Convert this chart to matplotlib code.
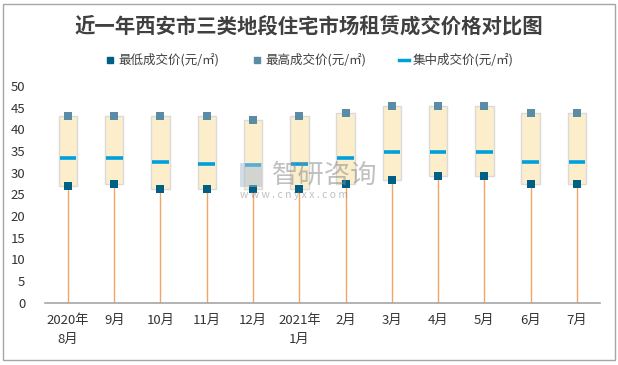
import numpy as np
import matplotlib
matplotlib.use("Agg")
import matplotlib.pyplot as plt
from matplotlib.lines import Line2D
from matplotlib.patches import Rectangle

plt.rcParams['font.family'] = ['Noto Sans CJK SC', 'DejaVu Sans']

# =====================================
# Daten
# =====================================

months = ["2020年\n8月", "9月", "10月", "11月", "12月", "2021年\n1月",
          "2月", "3月", "4月", "5月", "6月", "7月"]
low_price = [27.0, 27.3, 26.2, 26.2, 26.2, 26.2, 27.3, 28.2, 29.2, 29.2, 27.3, 27.3]
high_price = [43.0, 43.0, 43.0, 43.0, 42.1, 43.0, 43.7, 45.4, 45.4, 45.4, 43.7, 43.7]
mid_price = [33.3, 33.3, 32.4, 31.9, 31.7, 31.9, 33.5, 34.7, 34.7, 34.7, 32.4, 32.4]
y_ticks = [0, 5, 10, 15, 20, 25, 30, 35, 40, 45, 50]

LOW_COLOR = "#005F85"
HIGH_COLOR = "#5B8CA6"
MID_COLOR = "#00A0DC"
LINE_COLOR = "#F2A464"
BOX_COLOR = "#FCEECB"

# =====================================
# Plot
# =====================================

fig = plt.figure(figsize=(6.18, 3.65), dpi=100)
ax = fig.add_axes([0.0725, 0.1707, 0.8985, 0.5937])

x = np.arange(len(months))
low = np.array(low_price)
high = np.array(high_price)
mid = np.array(mid_price)

ax.vlines(x, 0, low, color=LINE_COLOR, lw=1.0, zorder=1)
ax.bar(x, high - low, bottom=low, width=0.4, color=BOX_COLOR,
       edgecolor="#DADADA", linewidth=1.0, zorder=2)
ax.hlines(mid, x - 0.18, x + 0.18, color=MID_COLOR, lw=2.6, zorder=3)
ax.scatter(x, low, marker="s", s=32, color=LOW_COLOR, zorder=4, linewidths=0)
ax.scatter(x, high, marker="s", s=32, color=HIGH_COLOR, zorder=4, linewidths=0)

ax.set_xlim(-0.5, len(months) - 0.5)
ax.set_ylim(0, 50)
ax.set_yticks(y_ticks)
ax.set_xticks(x)
ax.set_xticklabels(months, fontsize=9.5, color="#333333", linespacing=1.6)
ax.tick_params(axis="y", labelsize=9.5, colors="#333333", length=0, pad=14)
ax.tick_params(axis="x", length=0, pad=8)
for s in ["top", "right", "left"]:
    ax.spines[s].set_visible(False)
ax.spines["bottom"].set_color("#A6A6A6")
ax.spines["bottom"].set_linewidth(1.2)

# Titel
fig.text(0.5, 0.93, "近一年西安市三类地段住宅市场租赁成交价格对比图",
         ha="center", va="center", fontsize=14.7, fontweight="bold", color="#404040")

# Legende
handles = [
    Line2D([], [], marker="s", linestyle="none", color=LOW_COLOR, markersize=5),
    Line2D([], [], marker="s", linestyle="none", color=HIGH_COLOR, markersize=5),
    Line2D([], [], color=MID_COLOR, lw=2.5),
]
labels = ["最低成交价(元/㎡)", "最高成交价(元/㎡)", "集中成交价(元/㎡)"]
fig.legend(handles, labels, loc="center", bbox_to_anchor=(0.5, 0.835), ncol=3,
           frameon=False, fontsize=9, handlelength=0.8, handletextpad=0.3,
           columnspacing=2.6, labelcolor="#404040")

# Wasserzeichen
fig.text(0.44, 0.52, "智研咨询", fontsize=19, color="#8C8C8C", alpha=0.55,
         ha="left", va="center", zorder=6)
fig.text(0.388, 0.466, "w w w . c n y x x . c o m", fontsize=7.5, color="#8C8C8C",
         alpha=0.55, ha="left", va="center", zorder=6)
fig.add_artist(Rectangle((0.388, 0.488), 0.036, 0.066, transform=fig.transFigure,
                         facecolor="#A9BCD3", alpha=0.5, edgecolor="none", zorder=6))

# Rahmen
fig.add_artist(Rectangle((0.005, 0.015), 0.99, 0.975, transform=fig.transFigure,
                         fill=False, edgecolor="#A6A6A6", lw=1.0))

fig.savefig("out.png", dpi=100)
